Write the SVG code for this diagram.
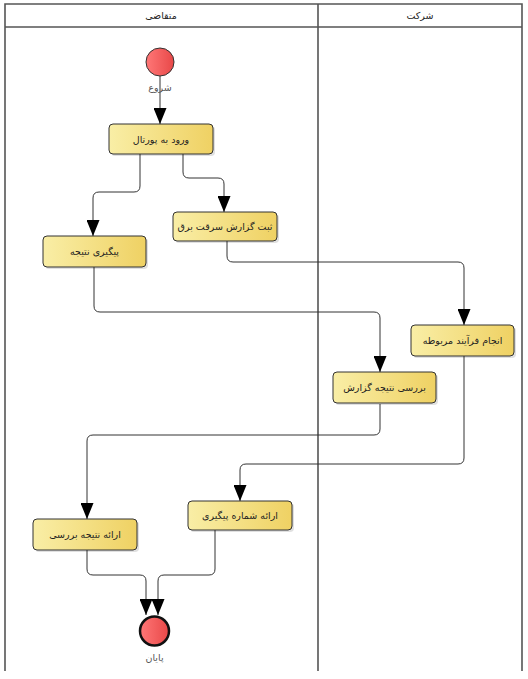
<svg xmlns="http://www.w3.org/2000/svg" width="528" height="679" viewBox="0 0 528 679">
<defs>
<linearGradient id="ng" x1="0" y1="0" x2="1" y2="0"><stop offset="0" stop-color="#f9eea6"/><stop offset="1" stop-color="#efd163"/></linearGradient>
<linearGradient id="rg" x1="0" y1="0" x2="1" y2="0"><stop offset="0" stop-color="#f77"/><stop offset="1" stop-color="#e84848"/></linearGradient>
<marker id="ah" viewBox="0 0 16 13" refX="16" refY="6.5" markerWidth="16" markerHeight="13" markerUnits="userSpaceOnUse" orient="auto"><path d="M0,0 L16,6.5 L0,13 z" fill="#000"/></marker>
</defs>
<style>
.lane{fill:none;stroke:#555;stroke-width:1.6}
.node rect.b{fill:url(#ng);stroke:#333;stroke-width:1}
.node rect.s{fill:#000;opacity:0.12}
text{font-family:"DejaVu Sans","Noto Sans",sans-serif;font-size:9.5px;fill:#222;text-anchor:middle;direction:rtl}
.lbl{fill:#555}
.c{fill:none;stroke:#333;stroke-width:1;marker-end:url(#ah)}
</style>
<rect width="528" height="679" fill="#fff"/>
<g id="lanes">
<path class="lane" d="M5,671 V4 H522 V671 M5,27 H522 M318,4 V671"/>
<text x="161" y="19">متقاضی</text>
<text x="420" y="19">شرکت</text>
</g>
<g id="connectors">
<path class="c" d="M160,76 V124"/>
<path class="c" d="M140,154 V186 Q140,192 134,192 H99 Q93,192 93,198 V236"/>
<path class="c" d="M183,154 V172 Q183,178 189,178 H218 Q224,178 224,184 V212"/>
<path class="c" d="M227,241 V256 Q227,262 233,262 H458 Q464,262 464,268 V325"/>
<path class="c" d="M94,267 V306 Q94,312 100,312 H374 Q380,312 380,318 V372"/>
<path class="c" d="M380,404 V429 Q380,435 374,435 H93 Q87,435 87,441 V519"/>
<path class="c" d="M464,356 V458 Q464,464 458,464 H246 Q240,464 240,470 V501"/>
<path class="c" d="M87,550 V569 Q87,575 93,575 H140 Q146,575 146,581 V615"/>
<path class="c" d="M215,530 V569 Q215,575 209,575 H164 Q158,575 158,581 V615"/>
</g>
<g id="start">
<circle cx="160" cy="62" r="14" fill="url(#rg)" stroke="#333" stroke-width="1"/>
<text class="lbl" x="160" y="91">شروع</text>
</g>
<g id="n1" class="node"><rect class="s" x="111" y="126" width="104" height="30" rx="4"/><rect class="b" x="109" y="124" width="104" height="30" rx="4"/><text x="161" y="142.5">ورود به پورتال</text></g>
<g id="n2" class="node"><rect class="s" x="45" y="238" width="103" height="31" rx="4"/><rect class="b" x="43" y="236" width="103" height="31" rx="4"/><text x="94.5" y="255">پیگیری نتیجه</text></g>
<g id="n3" class="node"><rect class="s" x="175" y="214" width="104" height="29" rx="4"/><rect class="b" x="173" y="212" width="104" height="29" rx="4"/><text x="225" y="230">ثبت گزارش سرقت برق</text></g>
<g id="n4" class="node"><rect class="s" x="413" y="327" width="103" height="31" rx="4"/><rect class="b" x="411" y="325" width="103" height="31" rx="4"/><text x="462.5" y="344">انجام فرآیند مربوطه</text></g>
<g id="n5" class="node"><rect class="s" x="335" y="374" width="103" height="31" rx="4"/><rect class="b" x="333" y="372" width="103" height="31" rx="4"/><text x="384.5" y="391">بررسی نتیجه گزارش</text></g>
<g id="n6" class="node"><rect class="s" x="190" y="503" width="104" height="29" rx="4"/><rect class="b" x="188" y="501" width="104" height="29" rx="4"/><text x="240" y="519">ارائه شماره پیگیری</text></g>
<g id="n7" class="node"><rect class="s" x="35" y="521" width="104" height="31" rx="4"/><rect class="b" x="33" y="519" width="104" height="31" rx="4"/><text x="85" y="538">ارائه نتیجه بررسی</text></g>
<g id="end">
<circle cx="154.5" cy="631" r="14.5" fill="url(#rg)" stroke="#111" stroke-width="2.5"/>
<text class="lbl" x="154.5" y="661">پایان</text>
</g>
</svg>
